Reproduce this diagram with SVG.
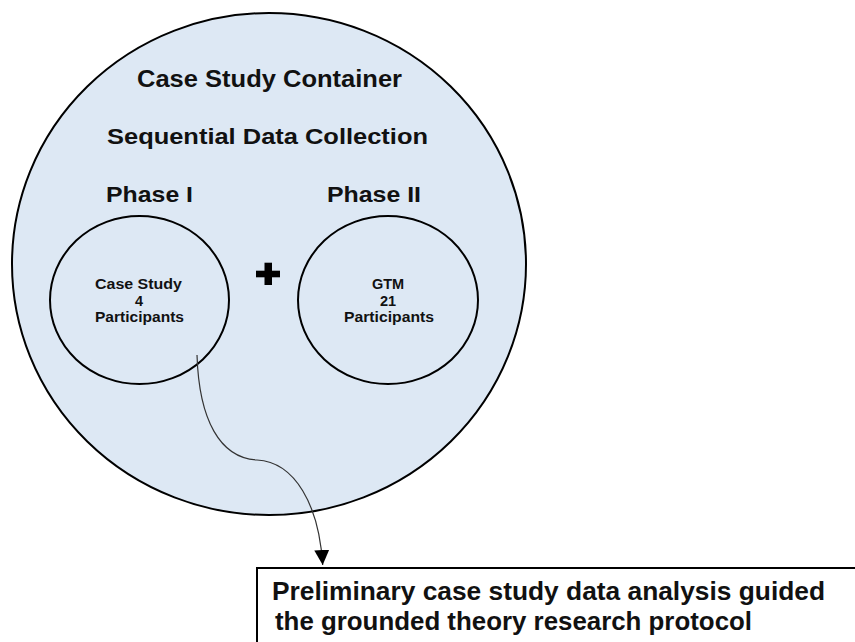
<svg xmlns="http://www.w3.org/2000/svg" width="855" height="642" viewBox="0 0 855 642">
<defs>
<style>
.ring{fill:#dde8f4;stroke:#000;stroke-width:2}
.t{font-family:"Liberation Sans",Arial,sans-serif;font-weight:bold;fill:#111;text-anchor:middle}
.tl{font-family:"Liberation Sans",Arial,sans-serif;font-weight:bold;fill:#111}
.conn{fill:none;stroke:#333;stroke-width:1.2}
</style>
<marker id="arr" markerUnits="userSpaceOnUse" markerWidth="15" markerHeight="15" refX="14" refY="7" orient="auto" viewBox="0 0 14 14">
<path d="M0,0 L14,7 L0,14 z" fill="#000"/>
</marker>
</defs>
<rect width="855" height="642" fill="#fff"/>
<g id="container">
<ellipse class="ring" cx="269" cy="264" rx="257" ry="251"/>
<text class="t" x="269.5" y="87" font-size="24" textLength="265" lengthAdjust="spacingAndGlyphs">Case Study Container</text>
<text class="t" x="267.5" y="144" font-size="22" textLength="321" lengthAdjust="spacingAndGlyphs">Sequential Data Collection</text>
</g>
<g id="phase1">
<text class="t" x="149.5" y="202" font-size="22" textLength="87" lengthAdjust="spacingAndGlyphs">Phase I</text>
<ellipse class="ring" cx="139.5" cy="300" rx="89.5" ry="84"/>
<text class="t" x="138.5" y="289" font-size="14.5" textLength="87" lengthAdjust="spacingAndGlyphs">Case Study</text>
<text class="t" x="139" y="306" font-size="14.5">4</text>
<text class="t" x="139.5" y="322" font-size="14.5" textLength="89" lengthAdjust="spacingAndGlyphs">Participants</text>
</g>
<g id="plus">
<rect x="256" y="270.7" width="24" height="6.6" fill="#000"/>
<rect x="264.5" y="262.7" width="7.5" height="22.3" fill="#000"/>
</g>
<g id="phase2">
<text class="t" x="374" y="202" font-size="22" textLength="94" lengthAdjust="spacingAndGlyphs">Phase II</text>
<ellipse class="ring" cx="388" cy="300" rx="90" ry="84"/>
<text class="t" x="388" y="289" font-size="14.5">GTM</text>
<text class="t" x="388" y="306" font-size="14.5">21</text>
<text class="t" x="389" y="322" font-size="14.5" textLength="90" lengthAdjust="spacingAndGlyphs">Participants</text>
</g>
<g id="connectors">
<path class="conn" d="M197,355 C199,420 220,458 257,460 C295,462 319,505 322.7,565" marker-end="url(#arr)"/>
</g>
<g id="note">
<rect x="257" y="568" width="610" height="90" fill="#fff" stroke="#000" stroke-width="2"/>
<text class="tl" x="272" y="600" font-size="25" textLength="553" lengthAdjust="spacingAndGlyphs">Preliminary case study data analysis guided</text>
<text class="tl" x="275" y="630" font-size="25" textLength="477" lengthAdjust="spacingAndGlyphs">the grounded theory research protocol</text>
</g>
</svg>
